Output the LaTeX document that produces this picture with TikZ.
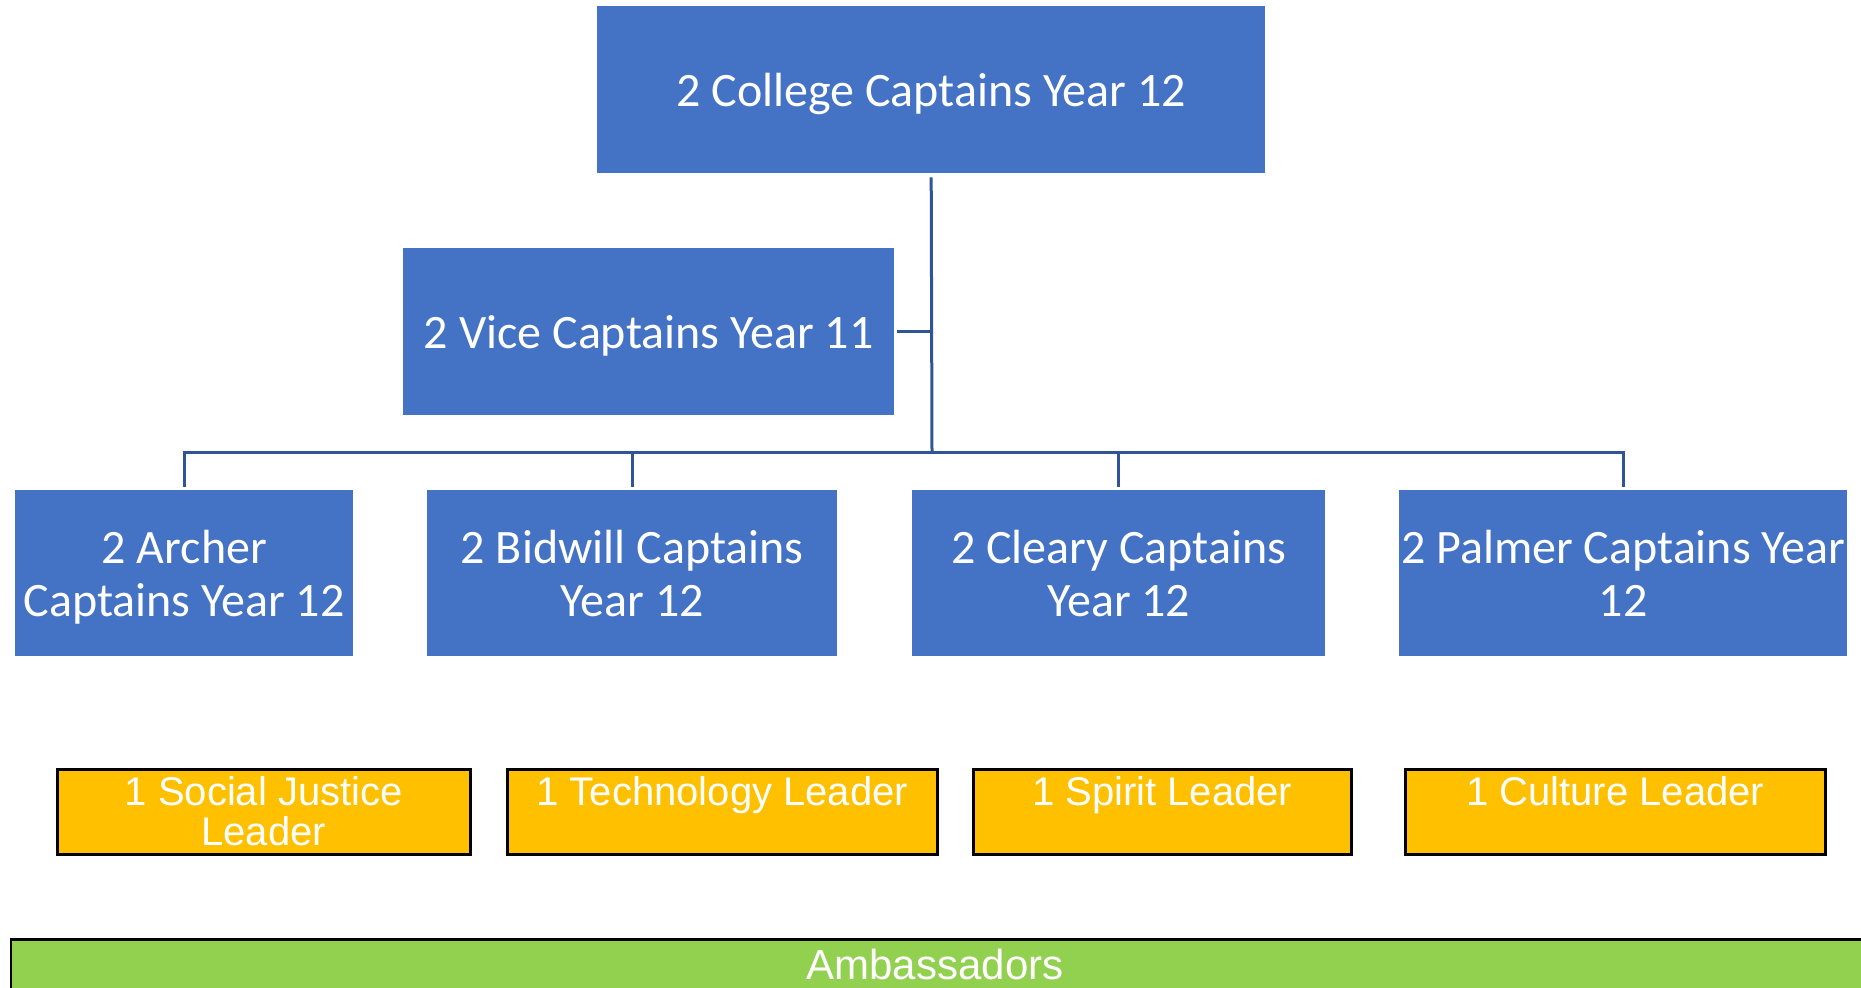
\documentclass[tikz,border=0pt]{standalone}
\usepackage{fontspec}
\setmainfont{Carlito}
\newfontfamily\arialf{Liberation Sans}
\definecolor{cblue}{HTML}{4472C4}
\definecolor{cconn}{HTML}{2F5597}
\definecolor{cyellow}{HTML}{FFC000}
\definecolor{cgreen}{HTML}{92D050}
\begin{document}
\begin{tikzpicture}[x=1pt,y=-1pt,
  bstyle/.style={fill=cblue, text=white, font=\fontsize{48}{53}\selectfont, align=center, inner sep=0pt, text depth=0pt, anchor=north west, minimum height=167pt},
  ystyle/.style={fill=cyellow, draw=black, line width=2.5pt, inner sep=0pt, anchor=north west, minimum height=85pt},
  ytext/.style={text=white, font=\arialf\fontsize{40}{40}\selectfont, align=center, inner sep=0pt, anchor=north},
  gstyle/.style={fill=cgreen, draw=black, line width=2.5pt, inner sep=0pt, anchor=north west, minimum height=54pt, minimum width=1856pt},
  conn/.style={draw=cconn, line width=3pt}]
\useasboundingbox (0,0) rectangle (1861,988);

% blue boxes
\node[bstyle, minimum width=668pt] (top) at (597,6) {2 College Captains Year 12};
\node[bstyle, minimum width=491pt] (vice) at (403,248) {2 Vice Captains Year 11};
\node[bstyle, minimum width=338pt, minimum height=166pt] (arc) at (15,490) {2 Archer\\Captains Year 12};
\node[bstyle, minimum width=410pt, minimum height=166pt] (bid) at (427,490) {2 Bidwill Captains\\Year 12};
\node[bstyle, minimum width=413pt, minimum height=166pt] (cle) at (912,490) {2 Cleary Captains\\Year 12};
\node[bstyle, minimum width=448pt, minimum height=166pt] (pal) at (1399,490) {2 Palmer Captains Year\\12};

% connectors
\coordinate (hub) at (932,452);
\draw[conn] ([yshift=-4pt]top.south) -- (hub);
\draw[conn] ([xshift=3pt]vice.east) -- (vice.east -| hub);
\draw[conn] ([yshift=3pt]arc.north) |- (hub) -| ([yshift=3pt]pal.north);
\draw[conn] ([yshift=3pt]bid.north) -- (bid.north |- hub);
\draw[conn] ([yshift=3pt]cle.north) -- (cle.north |- hub);

% yellow boxes
\node[ystyle, minimum width=413pt] (sj) at (56,768) {};
\node[ystyle, minimum width=430pt] (tech) at (506,768) {};
\node[ystyle, minimum width=378pt] (spir) at (972,768) {};
\node[ystyle, minimum width=420pt] (cult) at (1404,768) {};
\node[ytext] (sjt) at ([yshift=-8pt]sj.north) {1 Social Justice\\Leader};
\node[ytext] (techt) at ([yshift=-8pt]tech.north) {1 Technology Leader};
\node[ytext] (spirt) at ([yshift=-8pt]spir.north) {1 Spirit Leader};
\node[ytext] (cultt) at ([yshift=-8pt]cult.north) {1 Culture Leader};

% green bar
\node[gstyle] (amb) at (9.5,938) {};
\node[text=white, font=\arialf\fontsize{42}{42}\selectfont, inner sep=0pt, anchor=base] (ambt) at (935,979) {Ambassadors};
\end{tikzpicture}
\end{document}
